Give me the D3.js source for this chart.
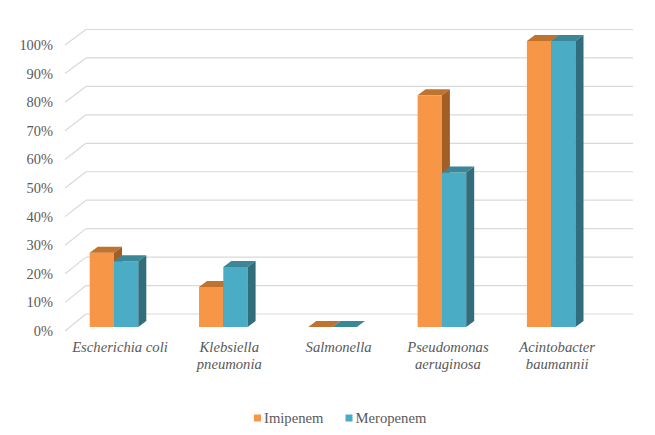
<!DOCTYPE html>
<html><head><meta charset="utf-8">
<script src="https://cdn.jsdelivr.net/npm/d3@7"></script>
<style>body{margin:0;background:#fff}svg{display:block}</style>
</head><body>
<svg id="c" width="655" height="435"></svg>
<script>
const categories = [["Escherichia coli"],["Klebsiella","pneumonia"],["Salmonella"],["Pseudomonas","aeruginosa"],["Acintobacter","baumannii"]];
const seriesNames = ["Imipenem","Meropenem"];
const imipenem = [26, 14, 0, 81, 100];
const meropenem = [23, 21, 0, 54, 100];
const ticks = [0,10,20,30,40,50,60,70,80,90,100];

const FONT = "'Liberation Serif', 'Times New Roman', Tinos, 'DejaVu Serif', serif";
const colors = [
  {front:"#F79646", top:"#C0732F", side:"#A35E26"},
  {front:"#4BACC6", top:"#3A8798", side:"#316D7B"}
];
const svg = d3.select("#c");
const yBack = d3.scaleLinear().domain([0,100]).range([314,29.5]);
const yFront = d3.scaleLinear().domain([0,100]).range([331,45]);
const yBar = d3.scaleLinear().domain([0,100]).range([327,41]);
const x = d3.scaleBand().domain(categories.map(c=>c.join(" "))).range([59.35,605.85]);
const xs = d3.scaleBand().domain(seriesNames).range([0,48.6]);
const backL = 86, backR = 633, frontL = 65;
const ddx = 8, ddy = -6;

const g = svg.append("g");
ticks.forEach(t=>{
  g.append("line").attr("x1",backL).attr("x2",backR).attr("y1",yBack(t)).attr("y2",yBack(t))
   .attr("stroke","#d9d9d9").attr("stroke-width",1.2);
  g.append("line").attr("x1",frontL).attr("x2",backL).attr("y1",yFront(t)).attr("y2",yBack(t))
   .attr("stroke","#d9d9d9").attr("stroke-width",1.2);
  svg.append("text").attr("x",53).attr("y",yFront(t)).attr("dy","0.35em").attr("text-anchor","end")
   .attr("font-family",FONT).attr("fill","#595959")
   .attr("font-size","14.4px").text(t+"%");
});

const series = [imipenem, meropenem];
categories.forEach((c,i)=>{
  const key = c.join(" ");
  const cx = x(key) + x.bandwidth()/2;
  series.forEach((vals,s)=>{
    const x0 = cx - 24.3 + xs(seriesNames[s]);
    const w = xs.bandwidth();
    const yt = yBar(vals[i]), yb = yBar(0);
    const col = colors[s];
    const bg = svg.append("g");
    bg.append("rect").attr("x",x0).attr("y",yt).attr("width",w).attr("height",yb-yt).attr("fill",col.front);
    bg.append("path").attr("d",`M${x0},${yt}L${x0+ddx},${yt+ddy}L${x0+w+ddx},${yt+ddy}L${x0+w},${yt}Z`).attr("fill",col.top);
    bg.append("path").attr("d",`M${x0+w},${yt}L${x0+w+ddx},${yt+ddy}L${x0+w+ddx},${yb+ddy}L${x0+w},${yb}Z`).attr("fill",col.side);
  });
  const t = svg.append("text").attr("x",cx+6).attr("y",352).attr("text-anchor","middle")
    .attr("font-family",FONT).attr("fill","#595959")
    .attr("font-size","14.67px").attr("font-style","italic");
  c.forEach((line,j)=>t.append("tspan").attr("x",cx+6).attr("y",352+j*17).text(line));
});

const leg = [{x:254,tx:264},{x:345.5,tx:355.5}];
seriesNames.forEach((n,s)=>{
  svg.append("rect").attr("x",leg[s].x).attr("y",414.5).attr("width",7).attr("height",7).attr("fill",colors[s].front);
  svg.append("text").attr("x",leg[s].tx).attr("y",423).attr("font-family",FONT).attr("fill","#595959")
   .attr("font-size","14.67px").text(n);
});
</script>
</body></html>
